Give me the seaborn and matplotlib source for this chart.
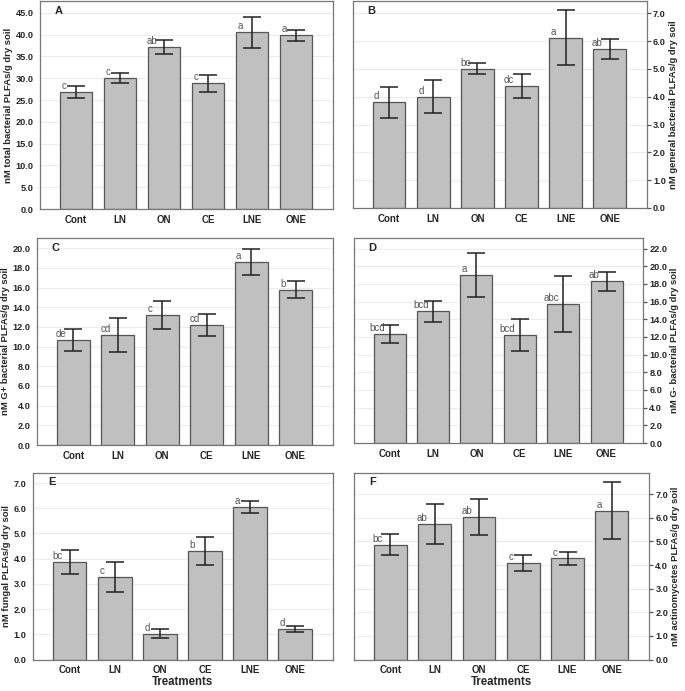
import matplotlib
matplotlib.use("Agg")
import matplotlib.pyplot as plt
import seaborn as sns
import pandas as pd

treatments = ["Cont", "LN", "ON", "CE", "LNE", "ONE"]

# means, error half-widths and letters for each panel
total_mean = [26.8, 30.1, 37.2, 28.8, 40.5, 39.8]
total_err = [1.4, 1.15, 1.55, 2.0, 3.5, 1.35]
total_lab = ["c", "c", "ab", "c", "a", "a"]

general_mean = [3.8, 4.0, 5.0, 4.38, 6.12, 5.72]
general_err = [0.55, 0.59, 0.2, 0.42, 0.98, 0.37]
general_lab = ["d", "d", "bc", "dc", "a", "ab"]

gpos_mean = [10.7, 11.2, 13.2, 12.2, 18.6, 15.8]
gpos_err = [1.1, 1.7, 1.45, 1.1, 1.3, 0.9]
gpos_lab = ["de", "cd", "c", "cd", "a", "b"]

gneg_mean = [12.3, 14.9, 19.0, 12.2, 15.7, 18.3]
gneg_err = [1.0, 1.2, 2.5, 1.8, 3.15, 1.05]
gneg_lab = ["bcd", "bcd", "a", "bcd", "abc", "ab"]

fungal_mean = [3.87, 3.27, 1.03, 4.3, 6.05, 1.22]
fungal_err = [0.47, 0.59, 0.19, 0.55, 0.24, 0.11]
fungal_lab = ["bc", "c", "d", "b", "a", "d"]

actino_mean = [4.87, 5.73, 6.03, 4.08, 4.28, 6.3]
actino_err = [0.45, 0.85, 0.75, 0.35, 0.29, 1.21]
actino_lab = ["bc", "ab", "ab", "c", "c", "a"]

sns.set_style("white")
plt.rcParams['font.family'] = ['Liberation Sans', 'DejaVu Sans']

fig = plt.figure(figsize=(6.85, 6.91), dpi=100)

panels = [
    ("A", total_mean, total_err, total_lab, "nM total bacterial PLFAs/g dry soil",
     [0.0584, 0.6975, 0.428, 0.301], 47.7, 5.0, "left", False),
    ("B", general_mean, general_err, general_lab, "nM general bacterial PLFAs/g dry soil",
     [0.5153, 0.6990, 0.429, 0.300], 7.45, 1.0, "right", False),
    ("C", gpos_mean, gpos_err, gpos_lab, "nM G+ bacterial PLFAs/g dry soil",
     [0.054, 0.356, 0.432, 0.2996], 21.05, 2.0, "left", False),
    ("D", gneg_mean, gneg_err, gneg_lab, "nM G- bacterial PLFAs/g dry soil",
     [0.5168, 0.3589, 0.4219, 0.2967], 23.2, 2.0, "right", False),
    ("E", fungal_mean, fungal_err, fungal_lab, "nM fungal PLFAs/g dry soil",
     [0.048, 0.0455, 0.438, 0.270], 7.4, 1.0, "left", True),
    ("F", actino_mean, actino_err, actino_lab, "nM actinomycetes PLFAs/g dry soil",
     [0.5168, 0.0455, 0.4307, 0.270], 7.9, 1.0, "right", True),
]

for name, mean, err, lab, ylab, rect, ytop, step, side, show_x in panels:
    ax = fig.add_axes(rect)
    df = pd.DataFrame({"Treatment": treatments, "value": mean})
    sns.barplot(data=df, x="Treatment", y="value", color="#c0c0c0",
                saturation=1, width=0.74, edgecolor="#555555", linewidth=0.9,
                errorbar=None, ax=ax, zorder=2)
    ax.errorbar(range(len(treatments)), mean, yerr=err, fmt="none",
                ecolor="#222222", elinewidth=1.1, capsize=6.5, capthick=1.1, zorder=3)
    for i, (m, t) in enumerate(zip(mean, lab)):
        ax.text(i - 0.28, m + ytop * 0.005, t, ha="center", va="bottom",
                fontsize=7, color="#555555", zorder=4)
    ax.set_xlim(-0.82, 5.84)
    ax.set_ylim(0, ytop)
    ticks = [step * k for k in range(int(ytop / step) + 1)]
    ax.set_yticks(ticks)
    ax.set_yticklabels([f"{t:.1f}" for t in ticks], fontsize=6.6, fontweight="bold")
    ax.set_xticks(range(len(treatments)))
    ax.set_xticklabels(treatments, fontsize=7, fontweight="bold")
    ax.yaxis.grid(True, color="#ececec", linewidth=0.8, zorder=0)
    ax.set_axisbelow(True)
    ax.tick_params(axis="y", direction="out", length=3, width=0.9,
                   color="#555555", pad=1.5)
    ax.tick_params(axis="x", direction="inout", length=5, width=0.9,
                   color="#555555", pad=1.5)
    if side == "right":
        ax.yaxis.tick_right()
        ax.yaxis.set_label_position("right")
    ax.set_ylabel(ylab, fontsize=6.8, fontweight="bold", labelpad=2)
    if show_x:
        ax.set_xlabel("Treatments", fontsize=8.3, fontweight="bold")
        ax.xaxis.set_label_coords(0.5, -0.088)
    else:
        ax.set_xlabel("")
    for s in ax.spines.values():
        s.set_visible(True)
        s.set_color("#777777")
        s.set_linewidth(0.9)
    ax.text(0.05, 0.95, name, transform=ax.transAxes, fontsize=8,
            fontweight="bold", ha="left", va="center")

fig.savefig("out.png", dpi=100)
